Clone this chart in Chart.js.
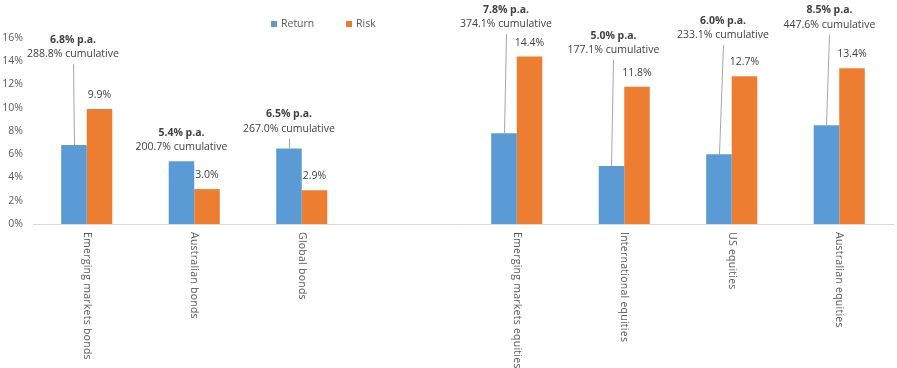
<!DOCTYPE html>
<html>
<head>
<meta charset="utf-8">
<script src="https://cdn.jsdelivr.net/npm/chart.js@4"></script>
<style>
  html, body { margin: 0; padding: 0; background: #fff; }
  #wrap { width: 897px; height: 368px; }
</style>
</head>
<body>
<div id="wrap"><canvas id="chart"></canvas></div>
<script>
const categories = ['Emerging markets bonds', 'Australian bonds', 'Global bonds', '',
  'Emerging markets equities', 'International equities', 'US equities', 'Australian equities'];
const returnPa = [6.8, 5.4, 6.5, null, 7.8, 5.0, 6.0, 8.5];
const cumulative = [288.8, 200.7, 267.0, null, 374.1, 177.1, 233.1, 447.6];
const risk = [9.9, 3.0, 2.9, null, 14.4, 11.8, 12.7, 13.4];
const yTicks = [0, 2, 4, 6, 8, 10, 12, 14, 16];

// where each return callout sits (in % on the y scale) and its sideways nudge in px
const calloutAt = [15.85, 7.85, 9.45, null, 18.45, 16.2, 17.5, 18.4];
const calloutDx = [-1, 0, 0, 0, 2, 2, 4, 3];

const FONT = '"Open Sans", "Noto Sans", sans-serif';
const TEXT = '#404040';
const AXIS_TEXT = '#595959';

const labelsPlugin = {
  id: 'excelLabels',
  afterDraw: (chart) => {
    const { ctx, scales: { x, y }, chartArea } = chart;
    const retMeta = chart.getDatasetMeta(0);
    const riskMeta = chart.getDatasetMeta(1);
    ctx.save();

    // legend
    const legendX = [271, 346];
    chart.data.datasets.forEach((ds, i) => {
      ctx.fillStyle = ds.backgroundColor;
      ctx.fillRect(legendX[i], 21, 6, 6);
      ctx.fillStyle = AXIS_TEXT;
      ctx.font = '10.5px ' + FONT;
      ctx.textAlign = 'left';
      ctx.textBaseline = 'middle';
      ctx.fillText(ds.label, legendX[i] + 10, 24);
    });

    // risk labels
    ctx.font = '10.5px ' + FONT;
    ctx.fillStyle = TEXT;
    ctx.textAlign = 'center';
    ctx.textBaseline = 'middle';
    riskMeta.data.forEach((bar, i) => {
      if (risk[i] == null) return;
      ctx.fillText(risk[i].toFixed(1) + '%', bar.x, bar.y - 14);
    });

    // return callouts with leader lines
    retMeta.data.forEach((bar, i) => {
      if (returnPa[i] == null) return;
      const lx = bar.x + calloutDx[i];
      const ly = y.getPixelForValue(calloutAt[i]);
      ctx.fillStyle = TEXT;
      ctx.font = 'bold 10.5px ' + FONT;
      ctx.fillText(returnPa[i].toFixed(1) + '% p.a.', lx, ly);
      ctx.font = '10.5px ' + FONT;
      ctx.fillText(cumulative[i].toFixed(1) + '% cumulative', lx, ly + 14.5);
      const top = ly + 24.5;
      if (bar.y - top > 9) {
        ctx.strokeStyle = '#a6a6a6';
        ctx.lineWidth = 1;
        ctx.beginPath();
        ctx.moveTo(Math.round(lx) + 0.5, top);
        ctx.lineTo(Math.round(bar.x) + 0.5, bar.y);
        ctx.stroke();
      }
    });

    // category labels, rotated clockwise
    ctx.font = '10.5px ' + FONT;
    ctx.letterSpacing = '0.25px';
    ctx.fillStyle = AXIS_TEXT;
    ctx.textAlign = 'left';
    ctx.textBaseline = 'middle';
    categories.forEach((c, i) => {
      if (!c) return;
      ctx.save();
      ctx.translate(x.getPixelForValue(i), chartArea.bottom + 8);
      ctx.rotate(Math.PI / 2);
      ctx.fillText(c, 0, 0);
      ctx.restore();
    });
    ctx.restore();
  }
};

new Chart(document.getElementById('chart'), {
  type: 'bar',
  data: {
    labels: categories,
    datasets: [
      { label: 'Return', data: returnPa, backgroundColor: '#5b9bd5' },
      { label: 'Risk', data: risk, backgroundColor: '#ed7d31' }
    ]
  },
  options: {
    responsive: true,
    maintainAspectRatio: false,
    animation: false,
    layout: { padding: { top: 38, right: 4, bottom: 144, left: 0 } },
    datasets: { bar: { categoryPercentage: 0.475, barPercentage: 1 } },
    plugins: {
      legend: { display: false },
      tooltip: { enabled: false }
    },
    scales: {
      x: {
        grid: { display: false, drawTicks: false },
        border: { color: '#d9d9d9', width: 1 },
        ticks: { display: false }
      },
      y: {
        min: 0,
        max: 16,
        afterFit: (s) => { s.width = 33; },
        afterBuildTicks: (s) => { s.ticks = yTicks.map(v => ({ value: v })); },
        grid: { display: false, drawTicks: false },
        border: { display: false },
        ticks: {
          padding: 10,
          color: AXIS_TEXT,
          font: { family: FONT, size: 10.5 },
          callback: (v) => v + '%'
        }
      }
    }
  },
  plugins: [labelsPlugin]
});
</script>
</body>
</html>
